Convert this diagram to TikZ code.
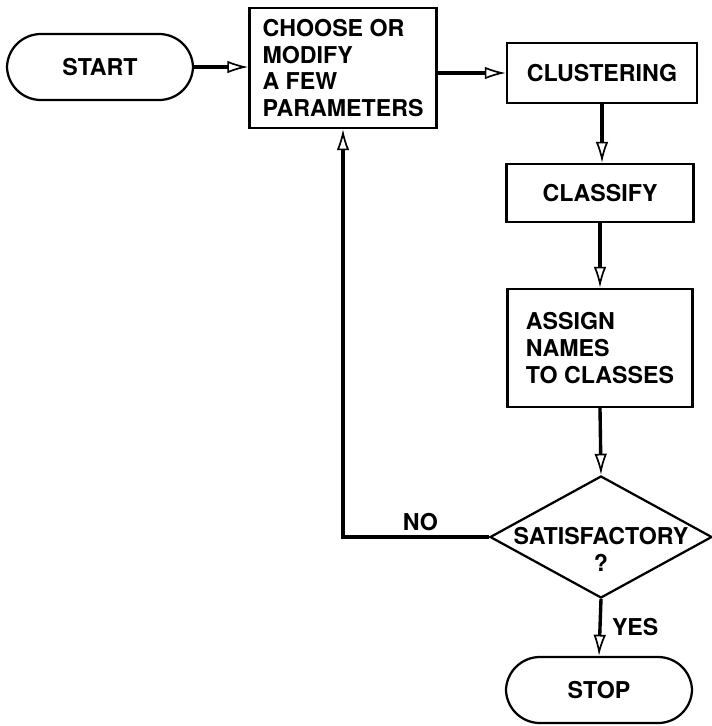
\documentclass[tikz,border=0pt]{standalone}
\usepackage{fontspec}
\setsansfont{TeX Gyre Heros}
\usepackage{tikz}
\usetikzlibrary{shapes,arrows.meta}

\begin{document}
\begin{tikzpicture}[x=0.025cm,y=-0.025cm,
  box/.style={draw,line width=1.6pt,align=left,font=\sffamily\bfseries\fontsize{16.5}{19}\selectfont},
  term/.style={box,rounded corners=0.85cm,minimum width=4.65cm,minimum height=1.65cm},
  decision/.style={draw,line width=1.6pt,shape=diamond,aspect=1.82,inner sep=0pt,minimum width=5.55cm,minimum height=3.05cm},
  flow/.style={line width=2.4pt,-{Latex[open,length=15pt,width=9pt,line width=1.2pt]}},
  lab/.style={font=\sffamily\bfseries\fontsize{16.5}{19}\selectfont}]
\useasboundingbox (0,0) rectangle (712,726);
\node[term] (start) at (100,67) {START};
\node[box,minimum width=4.675cm,minimum height=3cm] (choose) at (343,68) {CHOOSE OR\\MODIFY\\A FEW\\PARAMETERS};
\node[box,align=center,minimum width=4.75cm,minimum height=1.5cm] (clust) at (602,73) {CLUSTERING};
\node[box,align=center,minimum width=4.675cm,minimum height=1.45cm] (class) at (600,193) {CLASSIFY};
\node[box,minimum width=4.625cm,minimum height=2.95cm] (assign) at (600,348) {ASSIGN\\NAMES\\TO CLASSES};
\node[decision,label={[lab,align=center,yshift=-9pt]center:SATISFACTORY\\?}] (sat) at (601,537) {};
\node[term] (stop) at (599,690) {STOP};

\draw[flow] (start.east) -- (start.east -| choose.west);
\draw[flow] (clust.west -| choose.east) -- (clust.west);
\draw[flow] (clust.south) -- (clust.south |- class.north);
\draw[flow] (class.south) -- (assign.north);
\draw[flow] (assign.south) -- (sat.north);
\draw[flow] (sat.south) -- node[lab,right,xshift=4pt]{YES} (stop.north);
\draw[flow] (sat.west) -- node[lab,above,pos=0.47]{NO} (sat.west -| choose.south) -- (choose.south);
\end{tikzpicture}
\end{document}
